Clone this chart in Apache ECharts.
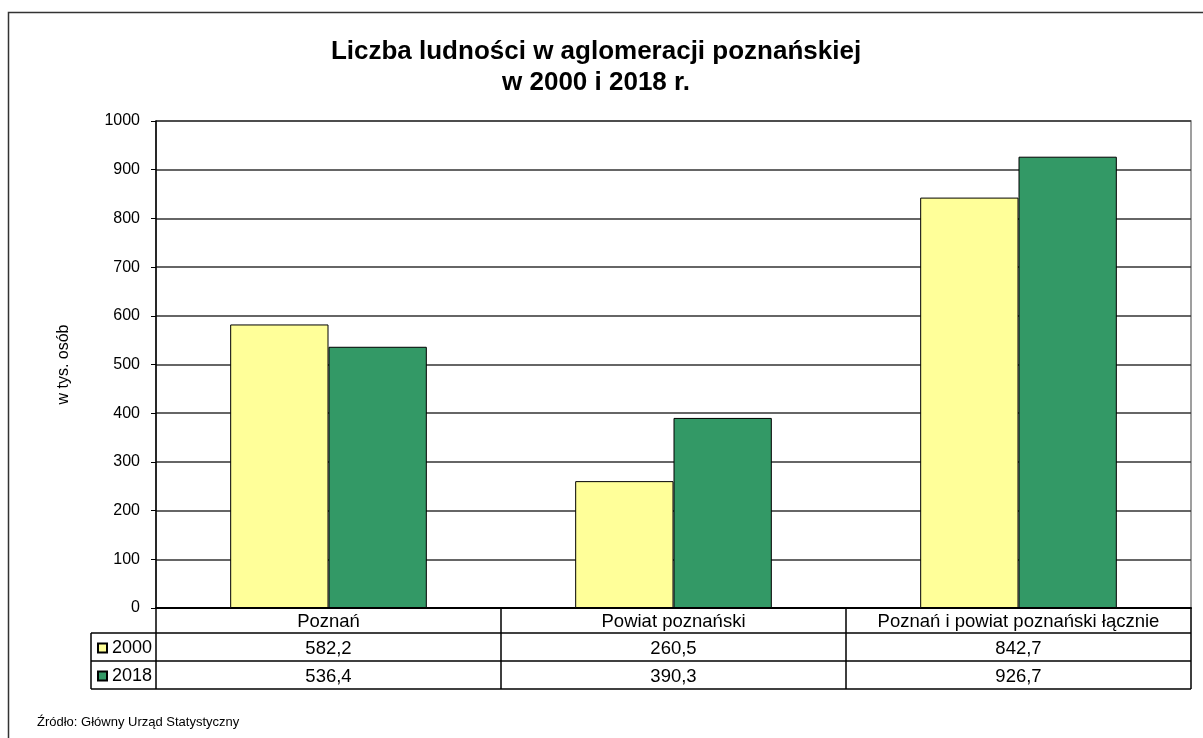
<!DOCTYPE html>
<html>
<head>
<meta charset="utf-8">
<style>
  html, body { margin: 0; padding: 0; background: #fff; }
  #chart { width: 1203px; height: 738px; }
</style>
<script src="https://cdn.jsdelivr.net/npm/echarts@6/dist/echarts.min.js"></script>
</head>
<body>
<div id="chart"></div>
<script>
// Population of the Poznań agglomeration, thousands of people
const categories = ['Poznań', 'Powiat poznański', 'Poznań i powiat poznański łącznie'];
const years = ['2000', '2018'];
const values2000 = [582.2, 260.5, 842.7];
const values2018 = [536.4, 390.3, 926.7];
const yTicks = { min: 0, max: 1000, interval: 100 };

const FONT = '"Liberation Sans", Arial, sans-serif';
const fmt = v => v.toFixed(1).replace('.', ',');

// plot area in pixels
const G = { left: 156, right: 12, top: 121, bottom: 130 };
const plotRight = 1203 - G.right;
const plotBottom = 738 - G.bottom;
const rowH = [25, 28, 28];          // header row, 2000 row, 2018 row
const tableTop = plotBottom;
const row1 = tableTop + rowH[0];
const row2 = row1 + rowH[1];
const row3 = row2 + rowH[2];
const legendColLeft = 91;
const TABLE_FONT = 18.5;

const chart = echarts.init(document.getElementById('chart'), null, { renderer: 'canvas' });

// table rows below the plot: each row is a category axis whose labels show values
function tableAxis(offset, formatter) {
  return {
    type: 'category', data: categories, gridIndex: 0, position: 'bottom', offset: offset,
    axisLine: { show: false }, axisTick: { show: false }, splitLine: { show: false },
    axisLabel: { show: true, interval: 0, margin: 4, color: '#000', fontFamily: FONT,
      fontSize: TABLE_FONT, formatter: formatter }
  };
}

const tableLine = (x1, y1, x2, y2, w) => ({
  type: 'line', shape: { x1, y1, x2, y2 }, silent: true,
  style: { stroke: '#000', lineWidth: w || 1.5 }
});

chart.setOption({
  animation: false,
  textStyle: { fontFamily: FONT },
  grid: { left: G.left, right: G.right, top: G.top, bottom: G.bottom, show: true,
    borderColor: '#808080', borderWidth: 1.5 },
  legend: {
    orient: 'vertical', left: 97, top: 638, padding: 0, itemWidth: 9, itemHeight: 9,
    itemGap: 8, itemTextGap: 5, icon: 'rect', data: years,
    textStyle: { color: '#000', fontSize: 18, fontFamily: FONT, lineHeight: 20 }
  },
  xAxis: [
    {
      type: 'category', data: categories, gridIndex: 0,
      axisLine: { show: true, lineStyle: { color: '#000', width: 2 } },
      axisTick: { show: true, length: row3 - tableTop, alignWithLabel: false, interval: 0,
        lineStyle: { color: '#000', width: 1.5 } },
      axisLabel: { show: true, interval: 0, margin: 4, color: '#000', fontFamily: FONT,
        fontSize: TABLE_FONT },
      splitLine: { show: false }
    },
    tableAxis(27, (v, i) => fmt(values2000[i])),
    tableAxis(55, (v, i) => fmt(values2018[i]))
  ],
  yAxis: {
    type: 'value', min: yTicks.min, max: yTicks.max, interval: yTicks.interval,
    name: 'w tys. osób', nameLocation: 'middle', nameGap: 84, nameRotate: 90,
    nameTextStyle: { color: '#000', fontSize: 16, fontFamily: FONT },
    axisLine: { show: true, lineStyle: { color: '#000', width: 1.5 } },
    axisTick: { show: true, inside: false, length: 5, lineStyle: { color: '#000' } },
    axisLabel: { color: '#000', fontSize: 16, fontFamily: FONT, margin: 16,
      formatter: v => String(v) },
    splitLine: { show: true, lineStyle: { color: '#333', width: 1.5 } }
  },
  series: [
    {
      name: years[0], type: 'bar', data: values2000, barGap: '0%', barCategoryGap: '43%',
      itemStyle: { color: '#FFFF99', borderColor: '#000', borderWidth: 1 }
    },
    {
      name: years[1], type: 'bar', data: values2018, barGap: '0%', barCategoryGap: '43%',
      itemStyle: { color: '#339966', borderColor: '#000', borderWidth: 1 }
    }
  ],
  graphic: [
    // outer frame
    { type: 'rect', shape: { x: 8.5, y: 12.5, width: 1400, height: 900 }, silent: true,
      style: { fill: 'none', stroke: '#333', lineWidth: 1.5 } },
    // title
    { type: 'text', x: 596, y: 36, silent: true,
      style: { text: 'Liczba ludności w aglomeracji poznańskiej\nw 2000 i 2018 r.',
        textAlign: 'center', font: 'bold 26px ' + FONT, lineHeight: 31, fill: '#000' } },
    // data table grid lines
    tableLine(legendColLeft, row1, plotRight, row1, 1.5),
    tableLine(legendColLeft, row2, plotRight, row2, 1.5),
    tableLine(legendColLeft, row3, plotRight, row3, 1.5),
    tableLine(legendColLeft, row1, legendColLeft, row3, 1.5),
    // source note
    { type: 'text', x: 37, y: 716, silent: true,
      style: { text: 'Źródło: Główny Urząd Statystyczny', font: '13px ' + FONT, fill: '#000' } }
  ]
});
</script>
</body>
</html>
